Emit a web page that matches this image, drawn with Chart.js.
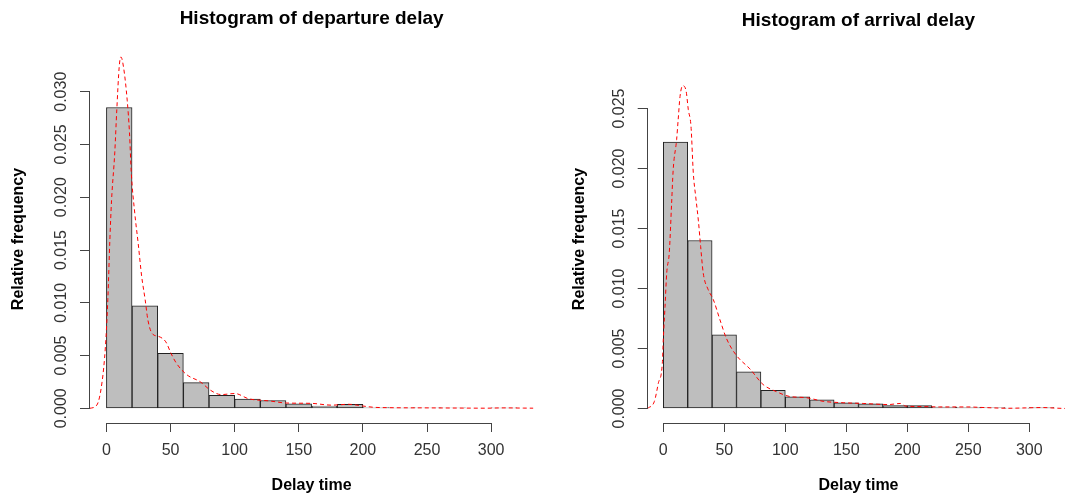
<!DOCTYPE html>
<html>
<head>
<meta charset="utf-8">
<script src="https://cdn.jsdelivr.net/npm/chart.js@4/dist/chart.umd.min.js"></script>
<style>
  html, body { margin: 0; padding: 0; background: #fff; overflow: hidden; }
  #wrap { position: relative; width: 1065px; height: 502px; overflow: hidden; }
  canvas { position: absolute; top: 0; }
  #depChart { left: 0; }
  #arrChart { left: 540px; }
</style>
</head>
<body>
<div id="wrap">
  <canvas id="depChart" width="540" height="502"></canvas>
  <canvas id="arrChart" width="540" height="502"></canvas>
</div>
<script>
// histogram breaks (delay time, minutes)
const breaks = [0, 20, 40, 60, 80, 100, 120, 140, 160, 180, 200, 220, 240, 260, 280, 300, 320];
const xTicks = [0, 50, 100, 150, 200, 250, 300];

// departure delay: relative frequency per bin + density curve
const depHist = [0.0285, 0.0097, 0.0052, 0.00244, 0.00123, 0.00088, 0.00074, 0.00043,
  0.00022, 0.00038, 0.00008, 0.00005, 0.00004, 0.00003, 0, 0.00005];
const depDensX = [-13, -7.5, -3.5, -0.8, 1.1, 2.7, 4, 6.5, 8.1, 10, 11.3, 13.5, 16.2, 18, 19.4,
  22.1, 24.8, 27.5, 30.2, 32.3, 35.6, 40.9, 46.3, 50.4, 54.4, 62.5, 73.3, 81.3, 89.4, 100.2,
  111, 127, 140.6, 159.4, 175.6, 189, 199.8, 208, 220, 250, 280, 295, 310, 325, 335];
const depDensY = [0, 0.0003, 0.0024, 0.0058, 0.0103, 0.016, 0.0197, 0.0242, 0.0283, 0.0324,
  0.0333, 0.0322, 0.0292, 0.0261, 0.0223, 0.0185, 0.0156, 0.0125, 0.0103, 0.0084, 0.0071,
  0.0068, 0.0063, 0.0052, 0.0043, 0.0032, 0.0025, 0.0017, 0.0013, 0.0014, 0.0009, 0.0007,
  0.0005, 0.00047, 0.0003, 0.00038, 0.00022, 0.0001, 0.00006, 0.00004, 0.00002, 0.00001,
  0.00004, 0.00002, 0.00001];
const depYTicks = [0, 0.005, 0.010, 0.015, 0.020, 0.025, 0.030];

// arrival delay
const arrHist = [0.0222, 0.0140, 0.00613, 0.00305, 0.00152, 0.00097, 0.00073, 0.00047,
  0.00039, 0.00025, 0.00025, 0.00012, 0.0001, 0.00007, 0.00002, 0.00008];
const arrDensX = [-12.9, -7.3, -4.1, -0.8, 0, 1.4, 2.8, 4.9, 6.8, 8.1, 10.9, 12.2, 13.7, 15.9,
  18.6, 20.5, 22.7, 24.6, 26.5, 28.7, 30.6, 32.7, 36.8, 40.9, 46.4, 51.9, 60.1, 71, 81.8,
  92.8, 103.7, 117.4, 131, 147.4, 163.8, 184.6, 194.4, 198.6, 212.6, 226.6, 249, 263,
  282.6, 296.6, 310.6, 322, 330];
const arrDensY = [0, 0.0006, 0.0021, 0.0038, 0.0058, 0.0085, 0.0113, 0.013, 0.0171, 0.0199,
  0.0224, 0.0241, 0.026, 0.0269, 0.0265, 0.0249, 0.0235, 0.0196, 0.0177, 0.0157, 0.0135,
  0.0113, 0.0099, 0.0091, 0.0074, 0.0058, 0.0044, 0.0033, 0.002, 0.0014, 0.001, 0.0009,
  0.0006, 0.00048, 0.00042, 0.00033, 0.00042, 0.0002, 0.00016, 0.00013, 0.00013, 0.00008,
  0.00002, 0.00005, 0.00008, 0.00003, 0];
const arrYTicks = [0, 0.005, 0.010, 0.015, 0.020, 0.025];

const FONT = "'Liberation Sans', Arial, sans-serif";
const axisColor = "#444";
Chart.defaults.font.family = FONT;

// R-style axis lines: only from first to last tick
const rAxes = {
  id: "rAxes",
  afterDraw(chart) {
    const { ctx, chartArea, scales } = chart;
    const x = scales.x, y = scales.y;
    ctx.save();
    ctx.strokeStyle = axisColor;
    ctx.lineWidth = 1;
    ctx.beginPath();
    const yb = Math.round(chartArea.bottom) + 0.5;
    ctx.moveTo(x.getPixelForValue(x.ticks[0].value), yb);
    ctx.lineTo(x.getPixelForValue(x.ticks[x.ticks.length - 1].value), yb);
    const xl = Math.round(chartArea.left) - 0.5;
    ctx.moveTo(xl, y.getPixelForValue(y.ticks[0].value));
    ctx.lineTo(xl, y.getPixelForValue(y.ticks[y.ticks.length - 1].value));
    ctx.stroke();
    ctx.restore();
  }
};

function makeHist(id, title, hist, densX, densY, yTicks, cfg) {
  const bars = hist.map((v, i) => ({ x: (breaks[i] + breaks[i + 1]) / 2, y: v }));
  const dens = densX.map((v, i) => ({ x: v, y: densY[i] }));
  const ctx = document.getElementById(id).getContext("2d");
  return new Chart(ctx, {
    data: {
      datasets: [
        {
          type: "line",
          data: dens,
          borderColor: "#ff0000",
          borderWidth: 1,
          borderDash: [4, 3],
          pointRadius: 0,
          fill: false,
          cubicInterpolationMode: "monotone",
          order: 0
        },
        {
          type: "bar",
          data: bars,
          backgroundColor: "#bebebe",
          borderColor: "#222",
          borderWidth: 1,
          borderSkipped: false,
          barPercentage: 1,
          categoryPercentage: 1,
          order: 1
        }
      ]
    },
    options: {
      responsive: false,
      animation: false,
      layout: { padding: { left: 0, right: cfg.padRight, top: 0, bottom: 0 } },
      plugins: {
        legend: { display: false },
        tooltip: { enabled: false },
        title: {
          display: true,
          text: title,
          fullSize: false,
          color: "#000",
          font: { size: 19, weight: "bold" },
          padding: { top: cfg.titleTop, bottom: 55 - cfg.titleTop - 22.8 }
        }
      },
      scales: {
        x: {
          type: "linear",
          min: -12.8,
          max: 332.8,
          offset: false,
          afterBuildTicks: s => { s.ticks = xTicks.map(v => ({ value: v })); },
          afterFit: s => { s.height = 79; },
          border: { display: false },
          grid: { offset: false, drawOnChartArea: false, drawTicks: true, tickLength: 9, color: axisColor },
          ticks: { autoSkip: false, maxRotation: 0, color: "#333", font: { size: 16 }, padding: 9 },
          title: {
            display: true,
            text: "Delay time",
            color: "#000",
            font: { size: 16, weight: "bold" },
            padding: { top: 0, bottom: 6.7 }
          }
        },
        y: {
          type: "linear",
          min: cfg.yMin,
          max: cfg.yMax,
          afterBuildTicks: s => { s.ticks = yTicks.map(v => ({ value: v })); },
          afterFit: s => { s.width = cfg.axisLeft; },
          border: { display: false },
          grid: { drawOnChartArea: false, drawTicks: true, tickLength: 10, color: axisColor },
          ticks: {
            minRotation: 90,
            maxRotation: 90,
            crossAlign: "center",
            padding: -2,
            color: "#333",
            font: { size: 16 },
            callback: v => v.toFixed(3)
          },
          title: {
            display: true,
            text: "Relative frequency",
            color: "#000",
            font: { size: 16, weight: "bold" },
            padding: { top: cfg.yTitlePad, bottom: 0 }
          }
        }
      }
    },
    plugins: [rAxes]
  });
}

makeHist("depChart", "Histogram of departure delay", depHist, depDensX, depDensY, depYTicks, {
  axisLeft: 90, padRight: 6.8, titleTop: 7, yTitlePad: 9,
  yMin: -(423 - 408.3) / 10553, yMax: (408.3 - 55) / 10553
});

makeHist("arrChart", "Histogram of arrival delay", arrHist, arrDensX, arrDensY, arrYTicks, {
  axisLeft: 107.7, padRight: 10.7, titleTop: 9, yTitlePad: 30.4,
  yMin: -(423 - 408.5) / 12000, yMax: (408.5 - 55) / 12000
});
</script>
</body>
</html>
